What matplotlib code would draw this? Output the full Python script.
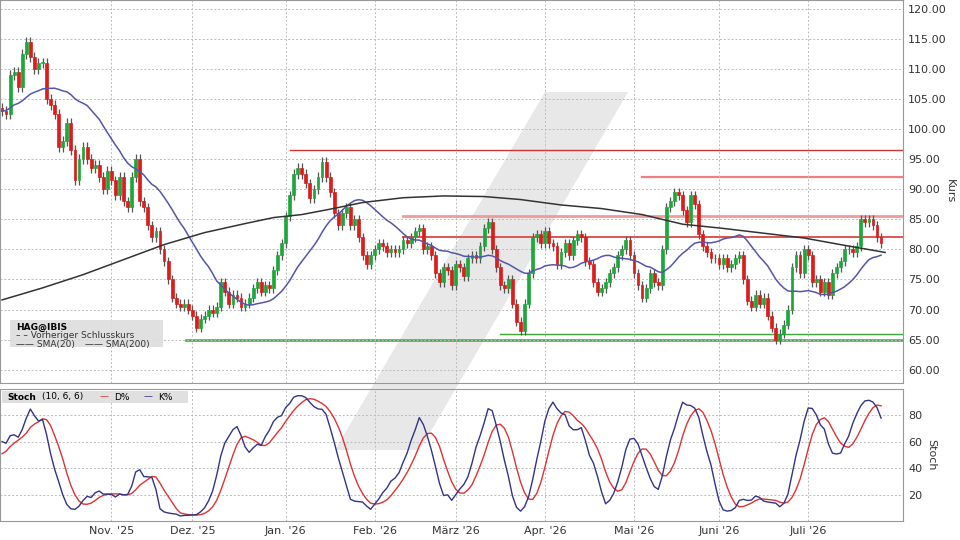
import matplotlib
matplotlib.use("Agg")
import matplotlib.pyplot as plt
from matplotlib.patches import Polygon, Rectangle
import numpy as np
import pandas as pd

closes = [
 103, 102.5, 109, 109.5, 107, 112.5, 114.5, 112, 110, 111,
 111, 105, 104, 102.5, 97, 98, 101, 96.5, 91.5, 95,
 97, 95, 93.5, 94, 92, 90, 93, 91.5, 89, 92,
 88, 87, 92, 95, 88, 87, 84, 82, 83, 80,
 78, 75, 72, 71, 70.5, 71, 70, 69, 67, 68.5,
 69, 70, 69.5, 70.5, 74.5, 73, 71, 72.5, 72, 70.5,
 71, 72, 73.5, 74.5, 73, 74, 73.5, 76.5, 79, 81,
 85.5, 89, 92.5, 93.5, 92.5, 91, 88.5, 90, 92, 94.5,
 92, 89.5, 86, 84, 86, 87, 84, 85, 82, 79,
 77.5, 79, 80, 81, 80.5, 79.5, 80, 79.5, 80, 81.5,
 81, 82, 83, 83.5, 80, 80.5, 79, 76, 74.5, 77,
 76.5, 74, 77.5, 77, 75.5, 78.5, 79, 78.5, 80.5, 83.5,
 84.5, 80, 77, 74, 73.5, 75, 71, 68, 66.5, 71,
 76, 82, 82.5, 81, 83, 81, 80.5, 77.5, 79.5, 81,
 79, 81.5, 82.5, 82, 78, 77.5, 74.5, 73, 73.5, 74.5,
 76, 77, 79, 80, 81.5, 79, 76, 74, 72, 73.5,
 76, 74.5, 74, 80, 87, 88, 89.5, 89, 86.5, 84.5,
 89, 87.5, 82.5, 80.5, 79.5, 78.5, 78.5, 77.5, 78.5, 77,
 77.5, 78.5, 79, 75, 71.5, 70.5, 72.5, 71, 72, 69,
 67, 65, 66, 67.5, 70, 77, 79, 76, 80, 79,
 74.5, 75, 73, 74.5, 72.5, 76, 77, 78, 80, 80,
 79.5, 80.5, 85, 84.5, 85, 84, 82, 81,
]
# closes before the visible window (feed the moving averages)
pre_closes = [98, 100, 101, 99, 102, 104, 103, 101, 104, 106, 105, 103, 104, 102, 101, 103, 104, 106, 105, 104]
first_open = 103.5
sma200_idx = [0, 10, 20, 30, 40, 50, 60, 67, 74, 81, 89, 99, 109, 119, 128, 138, 148, 158, 168, 178, 188, 198, 207, 218]
sma200_val = [71.6, 73.6, 75.8, 78.3, 80.8, 82.8, 84.3, 85.3, 85.8, 86.7, 87.8, 88.6, 88.9, 88.8, 88.3, 87.4, 86.8, 85.8, 84.2, 83.5, 82.7, 81.9, 80.8, 79.5]
month_labels = ["Nov. '25", "Dez. '25", "Jan. '26", "Feb. '26", "März '26", "Apr. '26", "Mai '26", "Juni '26", "Juli '26"]
month_starts = ["2025-11-01", "2025-12-01", "2026-01-01", "2026-02-01", "2026-03-01", "2026-04-01", "2026-05-01", "2026-06-01", "2026-07-01"]
res_levels = [96.5, 92.0, 85.5, 82.0]
res_start = [71, 158, 99, 99]
sup_levels = [66.0, 65.0]
sup_start = [123, 45.5]

n = len(closes)
npre = len(pre_closes)
dates = pd.bdate_range("2025-09-29", periods=n)
c = pd.Series(closes, dtype=float)
o = c.shift(1).fillna(first_open)
wick = 0.8
h = np.maximum(o, c) + wick
l = np.minimum(o, c) - wick
x = np.arange(n)

call = pd.Series(pre_closes + closes, dtype=float)
sma20 = call.rolling(20, min_periods=1).mean().iloc[npre:].reset_index(drop=True)
hall = pd.concat([call.iloc[:npre] + wick, h]).reset_index(drop=True)
lall = pd.concat([call.iloc[:npre] - wick, l]).reset_index(drop=True)
hh = hall.rolling(10, min_periods=1).max()
ll = lall.rolling(10, min_periods=1).min()
fastk = 100 * (call - ll) / (hh - ll)
Kall = fastk.rolling(6, min_periods=1).mean()
Dall = Kall.rolling(6, min_periods=1).mean()
K = Kall.iloc[npre:].reset_index(drop=True)
D = Dall.iloc[npre:].reset_index(drop=True)

fig = plt.figure(figsize=(9.6, 5.4), dpi=100)
fig.patch.set_facecolor("white")
W, H = 960, 540
pts = [(545, 92), (628, 92), (420, 450), (335, 450)]
wm = Polygon([(px / W, 1 - py / H) for px, py in pts], closed=True,
             transform=fig.transFigure, facecolor="#e8e8e8", edgecolor="none", zorder=-5)
fig.patches.append(wm)

ax = fig.add_axes([0.0, 0.291, 0.941, 0.709])
ax2 = fig.add_axes([0.0, 0.035, 0.941, 0.245], sharex=ax)
for a in (ax, ax2):
    a.set_facecolor("none")
    a.set_zorder(1)
    a.grid(True, color="#bbbbbb", linestyle=(0, (2, 2)), linewidth=0.7)
    a.yaxis.tick_right()
    a.yaxis.set_label_position("right")
    for s in a.spines.values():
        s.set_color("#999999")
    a.tick_params(colors="#333333", labelsize=8, length=0)

for i in range(n):
    col = "#1ea83c" if c[i] >= o[i] else "#dd1c1c"
    ax.vlines(x[i], l[i], h[i], color="#555555", linewidth=0.9, zorder=2)
    ax.add_patch(Rectangle((x[i] - 0.35, min(o[i], c[i])), 0.7, max(abs(c[i] - o[i]), 0.15),
                           facecolor=col, edgecolor=col, linewidth=0.5, zorder=3))

ax.plot(x, sma20, color="#5555aa", linewidth=1.1, zorder=4)
ax.plot(sma200_idx, sma200_val, color="#333333", linewidth=1.1, zorder=4)
for lv, st, lw, cl in zip(res_levels, res_start, [1.0, 1.6, 2.0, 1.4], ["#cc3333", "#f08080", "#f09a9a", "#dd5555"]):
    ax.plot([st, n + 5], [lv, lv], color=cl, linewidth=lw, zorder=1.5)
for lv, st, lw in zip(sup_levels, sup_start, [1.0, 1.8]):
    ax.plot([st, n + 5], [lv, lv], color="#3aaa3a", linewidth=lw, zorder=1.5)

ax.set_ylim(57.8, 121.5)
ax.set_yticks(np.arange(60, 121, 5))
ax.set_yticklabels([f"{v:.2f}" for v in np.arange(60, 121, 5)])
ax.set_ylabel("Kurs", rotation=270, labelpad=6, fontsize=8, color="#333333")
ax.set_xlim(-0.5, 222.5)
plt.setp(ax.get_xticklabels(), visible=False)

tick_pos = [int(np.searchsorted(dates, pd.Timestamp(m))) for m in month_starts]
ax2.set_xticks([p + 2 for p in tick_pos])
ax2.set_xticklabels(month_labels)
ax2.plot(x, D, color="#dd3333", linewidth=1.0)
ax2.plot(x, K, color="#333388", linewidth=1.0)
ax2.set_ylim(0, 100)
ax2.set_yticks([20, 40, 60, 80])
ax2.set_ylabel("Stoch", rotation=270, labelpad=10, fontsize=8, color="#333333")

ax.add_patch(Rectangle((10 / W, 1 - 347 / H), 153 / W, 27 / H, transform=fig.transFigure,
                       facecolor="#dddddd", edgecolor="none", zorder=5, alpha=0.9))
fig.text(16 / W, 1 - 327 / H, "HAG@IBIS", fontsize=6.5, fontweight="bold", va="center", zorder=6)
fig.text(16 / W, 1 - 336 / H, "– – Vorheriger Schlusskurs", fontsize=6.5, va="center", color="#333333", zorder=6)
fig.text(16 / W, 1 - 344 / H, "—— SMA(20)", fontsize=6.5, va="center", color="#333333", zorder=6)
fig.text(85 / W, 1 - 344 / H, "—— SMA(200)", fontsize=6.5, va="center", color="#333333", zorder=6)
ax2.add_patch(Rectangle((2 / W, 1 - 403 / H), 186 / W, 12 / H, transform=fig.transFigure,
                        facecolor="#dddddd", edgecolor="none", zorder=5, alpha=0.9))
fig.text(7 / W, 1 - 397 / H, "Stoch", fontsize=6.5, fontweight="bold", va="center", zorder=6)
fig.text(42 / W, 1 - 397 / H, "(10, 6, 6)", fontsize=6.5, va="center", zorder=6)
fig.text(100 / W, 1 - 397 / H, "—", fontsize=6.5, va="center", color="#dd3333", zorder=6)
fig.text(114 / W, 1 - 397 / H, "D%", fontsize=6.5, va="center", zorder=6)
fig.text(144 / W, 1 - 397 / H, "—", fontsize=6.5, va="center", color="#333388", zorder=6)
fig.text(158 / W, 1 - 397 / H, "K%", fontsize=6.5, va="center", zorder=6)

fig.savefig("out.png", dpi=100)
